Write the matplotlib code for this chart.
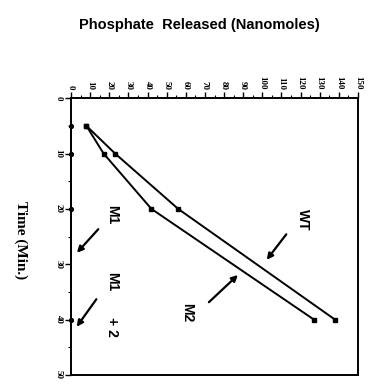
import matplotlib
matplotlib.use("Agg")
from matplotlib import pyplot as plt

# Data
time_min = [5, 10, 20, 40]
wt_phosphate = [8, 23, 56, 138]
m2_phosphate = [8, 17, 42, 127]
m1_phosphate = [0, 0, 0, 0]
m12_phosphate = [0, 0, 0, 0]

phos_ticks = list(range(0, 151, 10))
time_ticks = list(range(0, 51, 10))

fig = plt.figure(figsize=(3.76, 3.91), dpi=100)
ax = fig.add_axes([0.189, 0.041, 0.763, 0.708])

# chart is drawn turned on its side: phosphate across the top, time going down
ax.plot(wt_phosphate, time_min, color="black", linewidth=1.4, marker="s", markersize=3)
ax.plot(m2_phosphate, time_min, color="black", linewidth=1.4, marker="s", markersize=3)
ax.plot(m1_phosphate, time_min, color="black", linewidth=1.4, marker="o", markersize=2.5, clip_on=False)
ax.plot(m12_phosphate, time_min, color="black", linewidth=1.4, marker="o", markersize=2.5, clip_on=False)

ax.set_xlim(0, 150)
ax.set_ylim(50, 0)
ax.xaxis.tick_top()
ax.set_xticks(phos_ticks)
ax.set_xticks(range(5, 150, 10), minor=True)
ax.set_yticks(time_ticks)
ax.set_yticks(range(5, 50, 10), minor=True)
ax.set_xticklabels([str(v) for v in phos_ticks], rotation=-90, fontsize=6.5, fontweight="bold", family="Liberation Serif")
ax.set_yticklabels([str(v) for v in time_ticks], rotation=-90, fontsize=6.5, fontweight="bold", family="Liberation Serif", va="center")
ax.tick_params(which="major", length=4, width=1, pad=2)
ax.tick_params(which="minor", length=2, width=0.8)
for s in ax.spines.values():
  s.set_linewidth(1.4)

fig.text(0.53, 0.935, "Phosphate  Released (Nanomoles)", ha="center", va="center",
         fontsize=10.5, fontweight="bold", family="Liberation Sans")
fig.text(0.055, 0.385, "Time (Min.)", ha="center", va="center", rotation=-90,
         fontsize=11, fontweight="bold", family="Liberation Serif")

arrow = dict(arrowstyle="-|>", color="black", linewidth=1.6, mutation_scale=9)
lab = dict(rotation=-90, fontsize=10, fontweight="bold", family="Liberation Sans", ha="center", va="center")
ax.annotate("", xy=(101.4, 29.6), xytext=(113.4, 24.2), arrowprops=arrow)
ax.text(121, 22, "WT", **lab)
ax.annotate("", xy=(88.3, 31.6), xytext=(71, 37.2), arrowprops=arrow)
ax.text(60.6, 38.8, "M2", **lab)
ax.annotate("", xy=(2.1, 28.3), xytext=(15.2, 23.3), arrowprops=arrow, annotation_clip=False)
ax.text(21.4, 21.1, "M1", **lab)
ax.annotate("", xy=(2.1, 41.7), xytext=(14.1, 35.9), arrowprops=arrow, annotation_clip=False)
ax.text(21.4, 33.2, "M1", **lab)
ax.text(21.4, 41.3, "+ 2", **lab)

fig.savefig("out.png", dpi=100)
